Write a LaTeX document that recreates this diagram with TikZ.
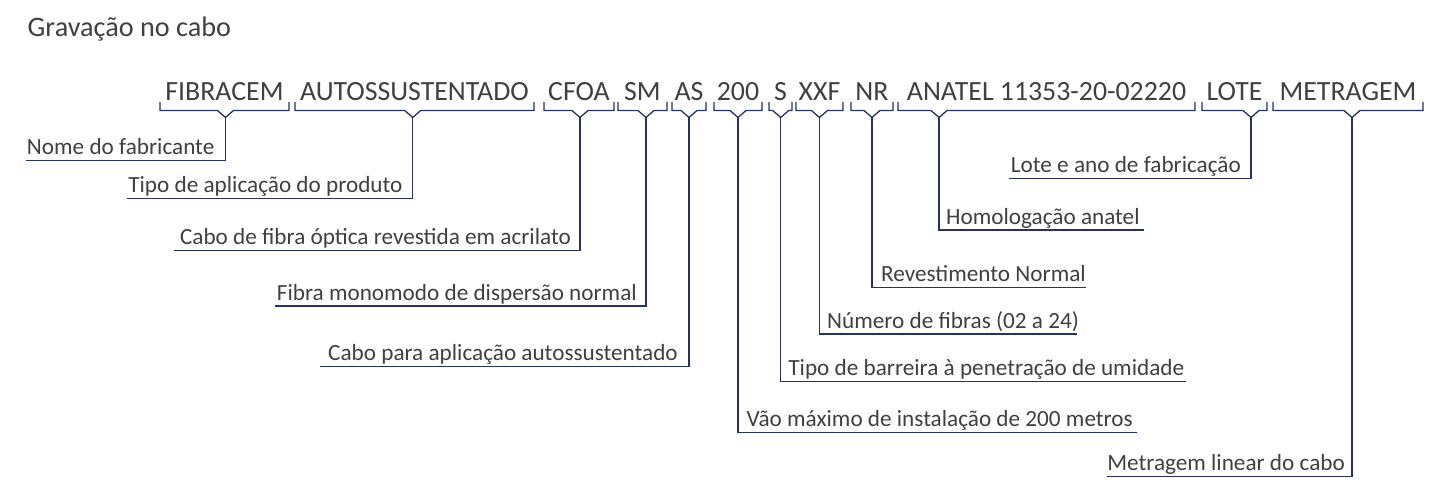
\documentclass[tikz,border=0pt]{standalone}
\usepackage{fontspec}
\setmainfont{Carlito}
\definecolor{navy}{RGB}{38,50,95}
\definecolor{tgray}{RGB}{64,64,64}
\tikzset{
  ln/.style={draw=navy, line width=1.3pt, line join=miter},
  word/.style={font=\fontsize{27.8}{30}\selectfont, text=tgray, inner sep=0pt, anchor=base},
  lbl/.style={font=\fontsize{23.2}{26}\selectfont, text=tgray, inner sep=0pt},
  ttl/.style={font=\fontsize{28.2}{30}\selectfont, text=tgray, inner sep=0pt, anchor=base west},
}
\newcommand\cbrace[4]{%
  \draw[ln] (#2,102) -- (#2,110.5) -- ({#4-8},110.5) -- (#4,117.5) -- ({#4+8},110.5) -- (#3,110.5) -- (#3,102);
  \coordinate (#1) at (#4,117.5);}
\begin{document}
\begin{tikzpicture}[x=1pt,y=-1pt]
\useasboundingbox[fill=white] (0,0) rectangle (1440,484);
\node[ttl] (title) at (27.5,36.5) {Gravação no cabo};
% words
\node[word] (w1) at ({(160+289)/2},101) {FIBRACEM};
\node[word] (w2) at ({(295+534)/2},101) {AUTOSSUSTENTADO};
\node[word] (w3) at ({(544+614)/2},101) {CFOA};
\node[word] (w4) at ({(618+667)/2},101) {SM};
\node[word] (w5) at ({(672+706)/2},101) {AS};
\node[word] (w6) at ({(714+762)/2},101) {200};
\node[word] (w7) at ({(769+792)/2},101) {S};
\node[word] (w8) at ({(796+843)/2},101) {XXF};
\node[word] (w9) at ({(851+893)/2},101) {NR};
\node[word] (w10) at ({(898+1195)/2},101) {ANATEL 11353-20-02220};
\node[word] (w11) at ({(1202+1267)/2},101) {LOTE};
\node[word] (w12) at ({(1273+1423)/2},101) {METRAGEM};
% braces
\cbrace{t1}{160}{289}{225.5}
\cbrace{t2}{295}{534}{412.7}
\cbrace{t3}{544}{614}{580}
\cbrace{t4}{618}{667}{646}
\cbrace{t5}{672}{706}{689}
\cbrace{t6}{714}{762}{738}
\cbrace{t7}{769}{792}{780.7}
\cbrace{t8}{796}{843}{819.5}
\cbrace{t9}{851}{893}{872}
\cbrace{t10}{898}{1195}{939}
\cbrace{t11}{1202}{1267}{1251}
\cbrace{t12}{1273}{1423}{1352}
% left labels
\node[lbl, anchor=base east] (l1) at ({225.5-11},{160.7-6}) {Nome do fabricante};
\coordinate (u1) at (26,160.7);
\node[lbl, anchor=base east] (l2) at ({412.7-10},{198.3-6}) {Tipo de aplicação do produto};
\coordinate (u2) at (126.7,198.3);
\node[lbl, anchor=base east] (l3) at ({580-9},{250.5-6}) {Cabo de fibra óptica revestida em acrilato};
\coordinate (u3) at (174,250.5);
\node[lbl, anchor=base east] (l4) at ({646-9},{306-6}) {Fibra monomodo de dispersão normal};
\coordinate (u4) at (275,306);
\node[lbl, anchor=base east] (l5) at ({689-11},{366.7-6}) {Cabo para aplicação autossustentado};
\coordinate (u5) at (320,366.7);
\node[lbl, anchor=base east] (l11) at ({1251-10},{178.3-6}) {Lote e ano de fabricação};
\coordinate (u11) at (1008.7,178.3);
\node[lbl, anchor=base east] (l12) at ({1352-7},{476.7-6}) {Metragem linear do cabo};
\coordinate (u12) at (1107,476.7);
% right labels
\node[lbl, anchor=base west] (l6) at ({738+8.5},{432.7-6}) {Vão máximo de instalação de 200 metros};
\coordinate (u6) at (1136.7,432.7);
\node[lbl, anchor=base west] (l7) at ({780.7+7.5},{381.7-6}) {Tipo de barreira à penetração de umidade};
\coordinate (u7) at (1185.7,381.7);
\node[lbl, anchor=base west] (l8) at ({819.5+7.5},{334-6}) {Número de fibras (02 a 24)};
\coordinate (u8) at (1076.7,334);
\node[lbl, anchor=base west] (l9) at ({872+9},{287.7-6}) {Revestimento Normal};
\coordinate (u9) at (1085.7,287.7);
\node[lbl, anchor=base west] (l10) at ({939+7},{230-6}) {Homologação anatel};
\coordinate (u10) at (1144,230);
% connectors
\foreach \i in {1,...,12} { \draw[ln] (t\i) |- (u\i); }
\end{tikzpicture}
\end{document}
